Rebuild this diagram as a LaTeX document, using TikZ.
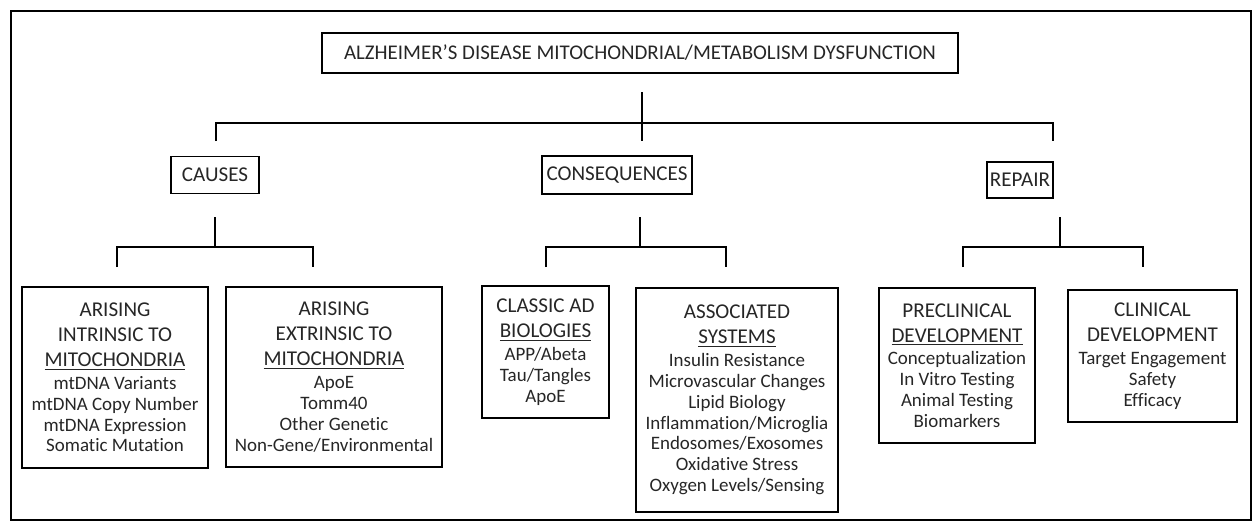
\documentclass[tikz,border=0pt]{standalone}
\usepackage{fontspec}
\setmainfont{Carlito}[Ligatures=NoCommon]
\newcommand\hdg[1]{{\fontsize{12}{12}\selectfont #1}}
\begin{document}
\begin{tikzpicture}[x=0.02cm, y=-0.02cm,
  sz/.style 2 args={minimum width=#1*0.02cm, minimum height=#2*0.02cm},
  box/.style={draw=black, line width=0.9pt, align=center, inner sep=0pt,
              text=black!85, font=\fontsize{10.8}{11.9}\selectfont},
  lbl/.style={draw=black, line width=0.9pt, inner sep=0pt, text=black!85,
              font=\fontsize{12}{14}\selectfont},
  link/.style={draw=black, line width=0.9pt},
  frame/.style={draw=black, line width=1.2pt}]
\useasboundingbox (0,0) rectangle (1254,525);
\draw[frame] (11,11) rectangle (1251,520);

% top level
\node[lbl, sz={636}{40}, font=\fontsize{11.9}{13}\selectfont] (title) at (640,53)
  {ALZHEIMER'S DISEASE MITOCHONDRIAL/METABOLISM DYSFUNCTION};

% second level
\node[lbl, sz={88}{37}] (causes) at (215,175) {CAUSES};
\node[lbl, sz={150}{38}] (cons) at (617,175) {CONSEQUENCES};
\node[lbl, sz={66}{36}] (repair) at (1020,180) {REPAIR};

% connectors level 1
\coordinate (tTop) at (642,92);
\coordinate (tBot) at (642,141);
\coordinate (hL) at (216,123);
\coordinate (hR) at (1053,123);
\coordinate (hLd) at (216,141);
\coordinate (hRd) at (1053,141);
\draw[link] (tTop) -- (tBot);
\draw[link] (hLd) -- (hL) -- (hR) -- (hRd);

% third level boxes
\node[box, sz={186}{181}] (intr) at (115,377.5)
  {\hdg{ARISING}\\[2.3pt] \hdg{INTRINSIC TO}\\[2.3pt] \hdg{\underline{MITOCHONDRIA}}\\[1pt]
   mtDNA Variants\\ mtDNA Copy Number\\ mtDNA Expression\\ Somatic Mutation};
\node[box, sz={216}{180}] (extr) at (334,377)
  {\hdg{ARISING}\\[2.3pt] \hdg{EXTRINSIC TO}\\[2.3pt] \hdg{\underline{MITOCHONDRIA}}\\[1pt]
   ApoE\\ Tomm40\\ Other Genetic\\ Non-Gene/Environmental};
\node[box, sz={127}{132}] (classic) at (545.5,352)
  {\hdg{CLASSIC AD}\\[2.3pt] \hdg{\underline{BIOLOGIES}}\\[1pt]
   APP/Abeta\\ Tau/Tangles\\ ApoE};
\node[box, sz={202}{224}] (assoc) at (737,400)
  {\hdg{ASSOCIATED}\\[2.3pt] \hdg{\underline{SYSTEMS}}\\[1pt]
   Insulin Resistance\\ Microvascular Changes\\ Lipid Biology\\ Inflammation/Microglia\\
   Endosomes/Exosomes\\ Oxidative Stress\\ Oxygen Levels/Sensing};
\node[box, sz={156}{155}] (precl) at (957,365.5)
  {\hdg{PRECLINICAL}\\[2.3pt] \hdg{\underline{DEVELOPMENT}}\\[1pt]
   Conceptualization\\ In Vitro Testing\\ Animal Testing\\ Biomarkers};
\node[box, sz={169}{132}] (clin) at (1152.5,356)
  {\hdg{CLINICAL}\\[2.3pt] \hdg{DEVELOPMENT}\\[1pt]
   Target Engagement\\ Safety\\ Efficacy};

% connectors level 2
\coordinate (cT) at (215,217);
\coordinate (cM) at (215,247);
\coordinate (cL) at (117,247);
\coordinate (cR) at (313,247);
\coordinate (cLd) at (117,267);
\coordinate (cRd) at (313,267);
\draw[link] (cT) -- (cM);
\draw[link] (cLd) -- (cL) -- (cR) -- (cRd);

\coordinate (sT) at (640,217);
\coordinate (sM) at (640,247);
\coordinate (sL) at (546,247);
\coordinate (sR) at (726,247);
\coordinate (sLd) at (546,267);
\coordinate (sRd) at (726,267);
\draw[link] (sT) -- (sM);
\draw[link] (sLd) -- (sL) -- (sR) -- (sRd);

\coordinate (rT) at (1060,217);
\coordinate (rM) at (1060,247);
\coordinate (rL) at (963,247);
\coordinate (rR) at (1143,247);
\coordinate (rLd) at (963,267);
\coordinate (rRd) at (1143,267);
\draw[link] (rT) -- (rM);
\draw[link] (rLd) -- (rL) -- (rR) -- (rRd);
\end{tikzpicture}
\end{document}
